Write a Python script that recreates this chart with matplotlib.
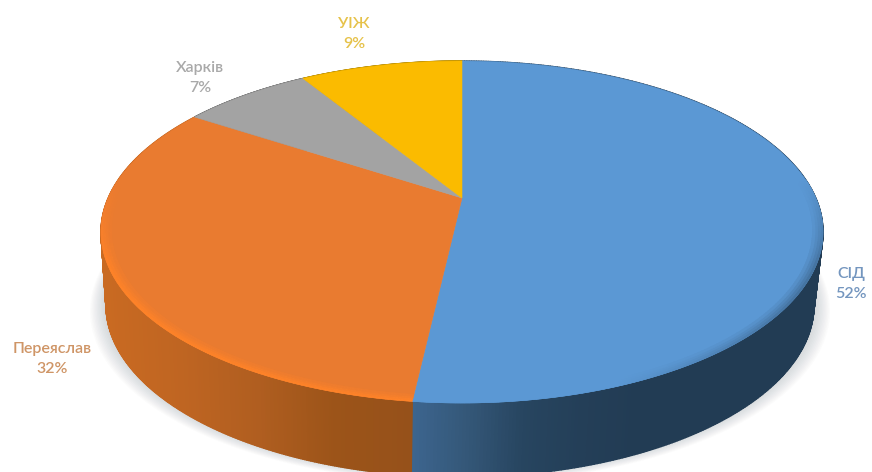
import matplotlib
matplotlib.use("Agg")
import matplotlib.pyplot as plt
import numpy as np
from matplotlib.collections import PolyCollection
from matplotlib.colors import LinearSegmentedColormap, to_rgb

plt.rcParams["font.family"] = ["Lato", "Open Sans", "DejaVu Sans"]

# pie data, clockwise from 12 o'clock (labels show the rounded value)
names = ["СІД", "Переяслав", "Харків", "УІЖ"]
shares = [51.8, 32.4, 7.0, 8.8]

top_colors = ["#5b98d4", "#e97b30", "#a3a3a3", "#fbbb00"]
label_colors = ["#7496bf", "#cf9566", "#a9a9a9", "#e6c24a"]
label_xy = [(851, 284), (52, 359), (200, 78), (354, 34)]

# wall shading, left to right across the visible front
wall_maps = [
    LinearSegmentedColormap.from_list("b", ["#3d6690", "#345778", "#274560", "#243f58", "#223c54"]),
    LinearSegmentedColormap.from_list("o", ["#c96a22", "#bf6522", "#b05e20", "#9c5419", "#96511a"]),
    LinearSegmentedColormap.from_list("g", ["#777777", "#777777"]),
    LinearSegmentedColormap.from_list("y", ["#b58a00", "#b58a00"]),
]
wall_ranges = [(412, 640), (103, 412), (0, 1), (0, 1)]

K = 0.1988  # perspective of the disc


def rim(theta, top, bottom, rx, cx, r=1.0):
    # project a circle with the same perspective, theta clockwise from top
    a = rx * np.sqrt(1 - K**2)
    c = (top * (1 + K) + bottom * (1 - K)) / 2
    b = (top * (1 + K) - bottom * (1 - K)) / 2
    u, v = r * np.sin(theta), r * np.cos(theta)
    w = 1 + K * v
    return cx + a * u / w, (c + b * v) / w


def face(theta, r=1.0):
    return rim(theta, 61, 403, 361, 462, r)


def base(theta, r=1.0):
    return rim(theta, 133, 477, 354, 460, r)


fig = plt.figure(figsize=(8.72, 4.72), dpi=100)
ax = fig.add_axes([0, 0, 1, 1])
ax.set_xlim(0, 872)
ax.set_ylim(472, 0)
ax.axis("off")

shares_arr = np.array(shares, dtype=float)
edges = np.concatenate([[0], np.cumsum(shares_arr)]) / shares_arr.sum() * 2 * np.pi

# soft shadow under the pie
ring = np.linspace(0, 2 * np.pi, 240)
for grow in np.linspace(16, 1, 12):
    sx, sy = base(ring)
    sx = 460 + (sx - 460) * (1 + grow / 354)
    sy = sy + grow * 0.5 - 2
    ax.fill(sx, sy, color="#667078", alpha=0.022, lw=0, zorder=1)

# side wall
for i in range(len(shares)):
    th = np.linspace(edges[i], edges[i + 1], 400)
    x1, y1 = face(th)
    x2, y2 = base(th)
    quads, cols = [], []
    lo, hi = wall_ranges[i]
    for j in range(len(th) - 1):
        quads.append([(x1[j], y1[j]), (x1[j + 1], y1[j + 1]), (x2[j + 1], y2[j + 1]), (x2[j], y2[j])])
        cols.append(wall_maps[i](np.clip((x1[j] - lo) / (hi - lo), 0, 1)))
    ax.add_collection(PolyCollection(quads, facecolors=cols, edgecolors=cols, linewidths=1.0, zorder=2))

# top face
for i in range(len(shares)):
    th = np.linspace(edges[i], edges[i + 1], 200)
    x, y = face(th)
    ax.fill(np.r_[face(0.0, 0.0)[0], x], np.r_[face(0.0, 0.0)[1], y],
            color=top_colors[i], lw=0.4, zorder=3)

# bevel along the front rim, fades out towards the back
for i in range(2):
    th = np.linspace(edges[i], edges[i + 1], 300)
    th = th[np.cos(th) < 0.12]
    steps = [(1.0, 0.993), (0.993, 0.986), (0.986, 0.979), (0.979, 0.972)]
    for n, (r1, r2) in enumerate(steps):
        x1, y1 = face(th, r1)
        x2, y2 = face(th, r2)
        base_col = np.array(to_rgb(top_colors[i]))
        quads, cols = [], []
        for j in range(len(th) - 1):
            quads.append([(x1[j], y1[j]), (x1[j + 1], y1[j + 1]), (x2[j + 1], y2[j + 1]), (x2[j], y2[j])])
            fade = np.clip((0.12 - np.cos(th[j])) / 0.5, 0, 1)
            if i == 1:
                c = base_col + np.array([0.09, 0.03, -0.03]) * (1 - n / 4) * fade
            else:
                # blue rim goes dark towards the right side
                mix = np.clip((x1[j] - 620) / 180, 0, 1)
                c = base_col * (1 - mix * 0.24 * (1 - n / 4) * fade)
            cols.append(tuple(np.clip(c, 0, 1)))
        ax.add_collection(PolyCollection(quads, facecolors=cols, edgecolors=cols, linewidths=0.4, zorder=4))

# labels
for name, share, col, (lx, ly) in zip(names, shares, label_colors, label_xy):
    ax.text(lx, ly, f"{name}\n{round(share)}%", color=col, ha="center", va="center",
            fontsize=11.5, fontweight="semibold", linespacing=1.5, zorder=5)

fig.savefig("out.png", dpi=100)
